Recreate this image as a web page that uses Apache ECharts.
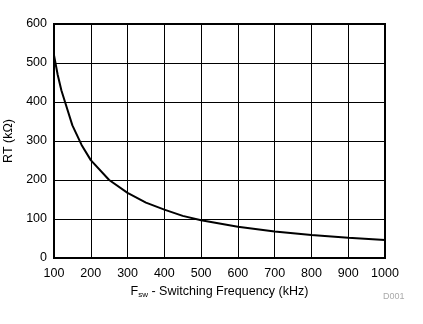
<!DOCTYPE html>
<html><head><meta charset="utf-8">
<script src="https://cdn.jsdelivr.net/npm/echarts@6/dist/echarts.min.js"></script>
<style>html,body{margin:0;padding:0;background:#fff}#c{width:423px;height:324px}</style>
</head><body><div id="c"></div>
<script>
const freq = [100,110,120,130,150,175,200,250,300,350,400,450,500,600,700,800,900,1000];
const rt   = [520,470,430,400,340,290,251,200,167,142,124,108,97,80,68,59,52,46];
const xTicks = {min:100,max:1000,interval:100};
const yTicks = {min:0,max:600,interval:100};

const chart = echarts.init(document.getElementById('c'), null, {renderer:'canvas'});
const font = 'Liberation Sans, Arial, sans-serif';
chart.setOption({
  animation:false,
  grid:{left:54,right:38,top:24,bottom:66,show:true,borderColor:'#000',borderWidth:2,containLabel:false,outerBoundsMode:'none'},
  xAxis:{type:'value',min:xTicks.min,max:xTicks.max,interval:xTicks.interval,
    axisLine:{show:false},axisTick:{show:false},
    splitLine:{show:true,lineStyle:{color:'#000',width:1}},
    axisLabel:{color:'#000',fontFamily:font,fontSize:12.5,margin:9,formatter:v=>String(v)},
    name:'{a|F}{s|sw}{a| - Switching Frequency (kHz)}',nameLocation:'middle',nameGap:27,
    nameTextStyle:{rich:{a:{fontFamily:font,fontSize:12.5,color:'#000'},s:{fontFamily:font,fontSize:8,color:'#000',verticalAlign:'bottom',padding:[6,0,0,0]}}}
  },
  yAxis:{type:'value',min:yTicks.min,max:yTicks.max,interval:yTicks.interval,
    axisLine:{show:false},axisTick:{show:false},
    splitLine:{show:true,lineStyle:{color:'#000',width:1}},
    axisLabel:{color:'#000',fontFamily:font,fontSize:12.5,margin:7,formatter:v=>String(v)},
    name:'RT (kΩ)',nameLocation:'middle',nameGap:33,nameRotate:90,
    nameTextStyle:{fontFamily:font,fontSize:12.5,color:'#000'}
  },
  graphic:[{type:'text',left:383,top:292,style:{text:'D001',fill:'#aaa',font:'9px '+font}}],
  series:[{type:'line',data:freq.map((f,i)=>[f,rt[i]]),showSymbol:false,
    lineStyle:{color:'#000',width:2},z:5}]
});
</script></body></html>
